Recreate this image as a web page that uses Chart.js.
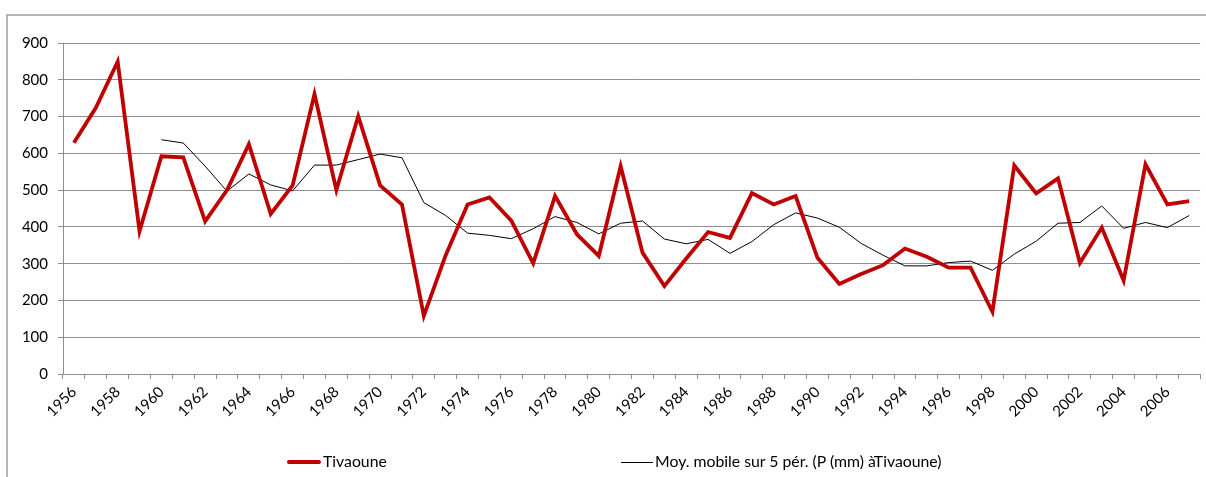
<!DOCTYPE html>
<html>
<head>
<meta charset="utf-8">
<script src="https://cdn.jsdelivr.net/npm/chart.js@4/dist/chart.umd.min.js"></script>
<style>
  html, body { margin: 0; padding: 0; background: #fff; }
  #wrap { position: relative; width: 1206px; height: 477px; overflow: hidden; font-family: Lato, "Open Sans", sans-serif; }
  #frame { position: absolute; left: 6px; top: 14px; width: 1199px; height: 480px;
           border-left: 2px solid #b4b4b4; border-top: 2px solid #b4b4b4; }
  canvas { position: absolute; left: 0; top: 0; }
  .key { position: absolute; top: 452px; font-size: 15.8px; color: #000; line-height: 17px; white-space: nowrap; }
  .key i { display: inline-block; vertical-align: middle; margin-right: 2px; position: relative; top: -1px; }
</style>
</head>
<body>
<div id="wrap">
  <div id="frame"></div>
  <canvas id="pluie" width="1206" height="477"></canvas>
  <div class="key" style="left:287px"><i style="width:34px;height:4px;background:#c00000;border-radius:2px"></i>Tivaoune</div>
  <div class="key" style="left:621px"><i style="width:32px;height:1px;background:#000"></i>Moy. mobile sur 5 pér. (P (mm) àTivaoune)</div>
</div>
<script>
// annual rainfall at Tivaoune (mm), 1956-2007
const annees = [
  1956, 1957, 1958, 1959, 1960, 1961, 1962, 1963, 1964, 1965,
  1966, 1967, 1968, 1969, 1970, 1971, 1972, 1973, 1974, 1975,
  1976, 1977, 1978, 1979, 1980, 1981, 1982, 1983, 1984, 1985,
  1986, 1987, 1988, 1989, 1990, 1991, 1992, 1993, 1994, 1995,
  1996, 1997, 1998, 1999, 2000, 2001, 2002, 2003, 2004, 2005,
  2006, 2007
];
const tivaoune = [
  629, 724, 849, 388, 592, 589, 415, 500, 625, 435,
  513, 761, 500, 701, 513, 461, 158, 323, 461, 480,
  417, 301, 484, 380, 321, 565, 330, 239, 314, 386,
  370, 492, 461, 484, 316, 245, 272, 296, 341, 319,
  289, 289, 169, 567, 491, 532, 302, 398, 254, 570,
  461, 470
];
// 5-year moving average, first value at 1960
const moyMobile = [
  null, null, null, null, 637, 628, 565, 497, 544, 514,
  498, 568, 568, 583, 598, 588, 466, 431, 383, 377,
  368, 395, 428, 412, 381, 410, 416, 367, 354, 366,
  328, 360, 406, 438, 424, 399, 355, 323, 294, 294,
  303, 307, 282, 326, 361, 410, 412, 457, 396, 412,
  398, 431
];
const yTicks = [0, 100, 200, 300, 400, 500, 600, 700, 800, 900];

const gris = '#8e8e8e';
const police = { family: 'Lato, "Open Sans", sans-serif', size: 15 };

new Chart(document.getElementById('pluie'), {
  type: 'line',
  data: {
    labels: annees.map(String),
    datasets: [
      {
        label: 'Tivaoune',
        data: tivaoune,
        borderColor: '#c00000',
        borderWidth: 3.8,
        pointRadius: 0,
        tension: 0,
        borderJoinStyle: 'miter'
      },
      {
        label: 'Moy. mobile sur 5 pér. (P (mm) àTivaoune)',
        data: moyMobile,
        borderColor: '#000',
        borderWidth: 1,
        pointRadius: 0,
        tension: 0,
        spanGaps: false
      }
    ]
  },
  options: {
    responsive: false,
    animation: false,
    layout: { padding: { left: 0, top: 43, right: 4, bottom: 53 } },
    plugins: { legend: { display: false }, tooltip: { enabled: false } },
    scales: {
      x: {
        offset: true,
        grid: { offset: true, drawOnChartArea: false, color: gris, tickLength: 5, tickColor: gris },
        border: { color: gris, width: 1 },
        ticks: {
          autoSkip: false,
          maxRotation: 45,
          minRotation: 45,
          padding: 4,
          color: '#000',
          font: police,
          callback: (v, i) => (i % 2 === 0 ? annees[i] : '')
        },
        afterFit: s => { s.height = 50; }
      },
      y: {
        min: 0,
        max: 900,
        afterBuildTicks: s => { s.ticks = yTicks.map(v => ({ value: v })); },
        grid: { color: gris, tickLength: 5, tickColor: gris },
        border: { color: gris, width: 1 },
        ticks: { color: '#000', font: police, padding: 10 },
        afterFit: s => { s.width = 63; }
      }
    }
  }
});
</script>
</body>
</html>
